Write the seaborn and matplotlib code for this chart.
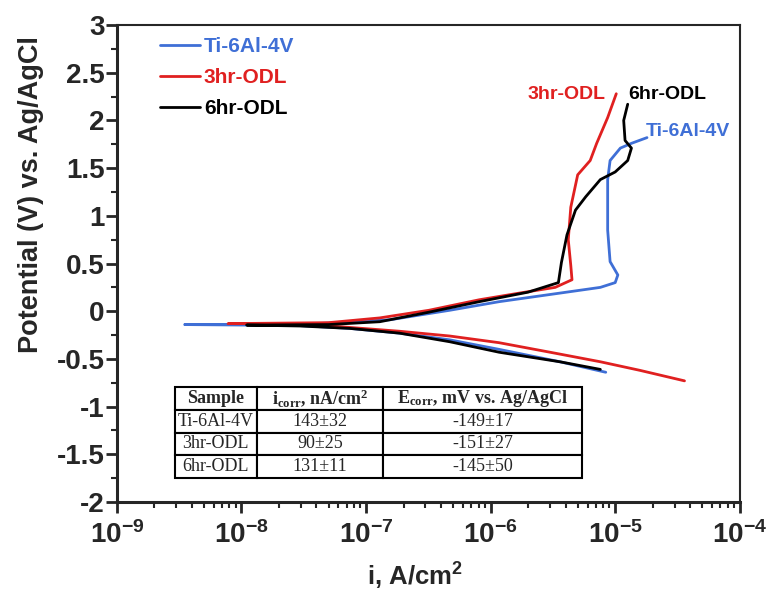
import matplotlib
matplotlib.use("Agg")
import matplotlib.pyplot as plt
import matplotlib.ticker as mticker
import seaborn as sns
import pandas as pd

# polarisation curves (i in A/cm2, E in V vs Ag/AgCl)
ti_i = [8.4e-6, 3.6e-6, 1.17e-6, 4.7e-7, 1.86e-7, 7.4e-8, 2.9e-8, 3.5e-9, 2.9e-8,
        1.55e-7, 4.7e-7, 1.17e-6, 3.6e-6, 7.6e-6, 1.0e-5, 1.05e-5, 9.1e-6, 8.7e-6,
        8.7e-6, 9.1e-6, 1.1e-5, 1.35e-5, 1.8e-5]
ti_E = [-0.64, -0.53, -0.40, -0.30, -0.23, -0.18, -0.15, -0.14, -0.14,
        -0.09, 0.01, 0.10, 0.19, 0.25, 0.30, 0.38, 0.52, 0.85,
        1.38, 1.58, 1.71, 1.76, 1.82]

odl3_i = [3.6e-5, 1.58e-5, 7.6e-6, 3.0e-6, 1.17e-6, 4.7e-7, 1.86e-7, 7.4e-8, 2.95e-8,
          7.8e-9, 5.0e-8, 1.29e-7, 3.2e-7, 8.1e-7, 1.7e-6, 3.3e-6, 4.5e-6, 4.4e-6,
          4.2e-6, 4.4e-6, 5.0e-6, 6.3e-6, 7.1e-6, 8.7e-6, 1.02e-5]
odl3_E = [-0.73, -0.62, -0.53, -0.43, -0.33, -0.26, -0.21, -0.17, -0.13,
          -0.13, -0.12, -0.07, 0.01, 0.12, 0.19, 0.25, 0.33, 0.48,
          0.75, 1.09, 1.43, 1.58, 1.76, 2.03, 2.28]

odl6_i = [7.6e-6, 3.6e-6, 1.17e-6, 4.7e-7, 1.86e-7, 7.4e-8, 2.95e-8, 1.1e-8, 5.0e-8,
          1.29e-7, 3.2e-7, 8.1e-7, 2.0e-6, 3.5e-6, 3.7e-6, 4.1e-6, 4.8e-6, 5.8e-6,
          7.6e-6, 1.0e-5, 1.26e-5, 1.35e-5, 1.2e-5, 1.17e-5, 1.26e-5]
odl6_E = [-0.61, -0.53, -0.43, -0.32, -0.23, -0.18, -0.155, -0.145, -0.14,
          -0.11, -0.01, 0.10, 0.20, 0.30, 0.51, 0.80, 1.06, 1.20,
          1.38, 1.46, 1.58, 1.71, 1.79, 2.0, 2.17]

samples = ["Ti-6Al-4V", "3hr-ODL", "6hr-ODL"]
colors = ["#3f6fd6", "#e02020", "#000000"]

# table values
tab_header = ["Sample", "i$_{corr}$, nA/cm$^2$", "E$_{corr}$, mV vs. Ag/AgCl"]
tab_icorr = ["143±32", "90±25", "131±11"]
tab_ecorr = ["-149±17", "-151±27", "-145±50"]

sns.set_style("ticks")
plt.rcParams["font.family"] = ["Liberation Sans", "DejaVu Sans"]
plt.rcParams["font.weight"] = "bold"
plt.rcParams["mathtext.default"] = "regular"
plt.rcParams["axes.unicode_minus"] = False

fig = plt.figure(figsize=(7.69, 5.91), dpi=100)
ax = fig.add_axes([0.152, 0.1506, 0.810, 0.807])

curves = [(ti_i, ti_E), (odl3_i, odl3_E), (odl6_i, odl6_E)]
for name, col, (ii, ee) in zip(samples, colors, curves):
    df = pd.DataFrame({"i": ii, "E": ee})
    sns.lineplot(data=df, x="i", y="E", sort=False, estimator=None,
                 color=col, linewidth=2, label=name, ax=ax)

ax.set_xscale("log")
ax.set_xlim(1e-9, 1e-4)
ax.set_ylim(-2, 3)
ax.xaxis.set_major_locator(mticker.FixedLocator([1e-9, 1e-8, 1e-7, 1e-6, 1e-5, 1e-4]))
ax.xaxis.set_minor_locator(mticker.LogLocator(base=10, subs=range(2, 10), numticks=20))
ax.xaxis.set_minor_formatter(mticker.NullFormatter())
ax.yaxis.set_major_locator(mticker.MultipleLocator(0.5))
ax.yaxis.set_minor_locator(mticker.MultipleLocator(0.25))
ax.yaxis.set_major_formatter(mticker.FuncFormatter(lambda v, p: f"{v:g}"))

ax.tick_params(axis="both", which="major", length=8, width=2, labelsize=20, direction="out")
ax.tick_params(axis="both", which="minor", length=4, width=1.5, direction="out")
ax.tick_params(axis="y", pad=1)
ax.tick_params(axis="x", pad=6)
for s in ["left", "bottom"]:
    ax.spines[s].set_linewidth(2.2)
for s in ["top", "right"]:
    ax.spines[s].set_linewidth(1.5)

ax.set_xlabel("i, A/cm$^2$", fontsize=18.5, fontweight="bold")
ax.set_ylabel("Potential (V) vs. Ag/AgCl", fontsize=19.5, fontweight="bold")
ax.xaxis.set_label_coords(0.478, -0.123)
ax.yaxis.set_label_coords(-0.117, 0.645)

leg = ax.legend(loc="upper left", bbox_to_anchor=(0.056, 0.992), frameon=False,
                labelcolor="linecolor", prop={"size": 15, "weight": "bold"},
                handlelength=1.9, handletextpad=0.2, labelspacing=0.57,
                borderaxespad=0)

# curve labels
ax.text(4.1e-6, 2.27, "3hr-ODL", color=colors[1], fontsize=14, fontweight="bold",
        ha="center", va="center")
ax.text(2.6e-5, 2.27, "6hr-ODL", color=colors[2], fontsize=14, fontweight="bold",
        ha="center", va="center")
ax.text(3.8e-5, 1.88, "Ti-6Al-4V", color=colors[0], fontsize=14, fontweight="bold",
        ha="center", va="center")

rows = [[s, a, b] for s, a, b in zip(samples, tab_icorr, tab_ecorr)]
tbl = ax.table(cellText=rows, colLabels=tab_header, cellLoc="center",
               colWidths=[0.201, 0.312, 0.487], bbox=[0.093, 0.05, 0.653, 0.191])
tbl.auto_set_font_size(False)
for (r, c), cell in tbl.get_celld().items():
    cell.set_linewidth(1.5)
    cell.set_edgecolor("black")
    t = cell.get_text()
    t.set_fontfamily("Liberation Serif")
    t.set_fontsize(13)
    t.set_fontweight("bold" if r == 0 else "normal")

fig.savefig("out.png", dpi=100)
